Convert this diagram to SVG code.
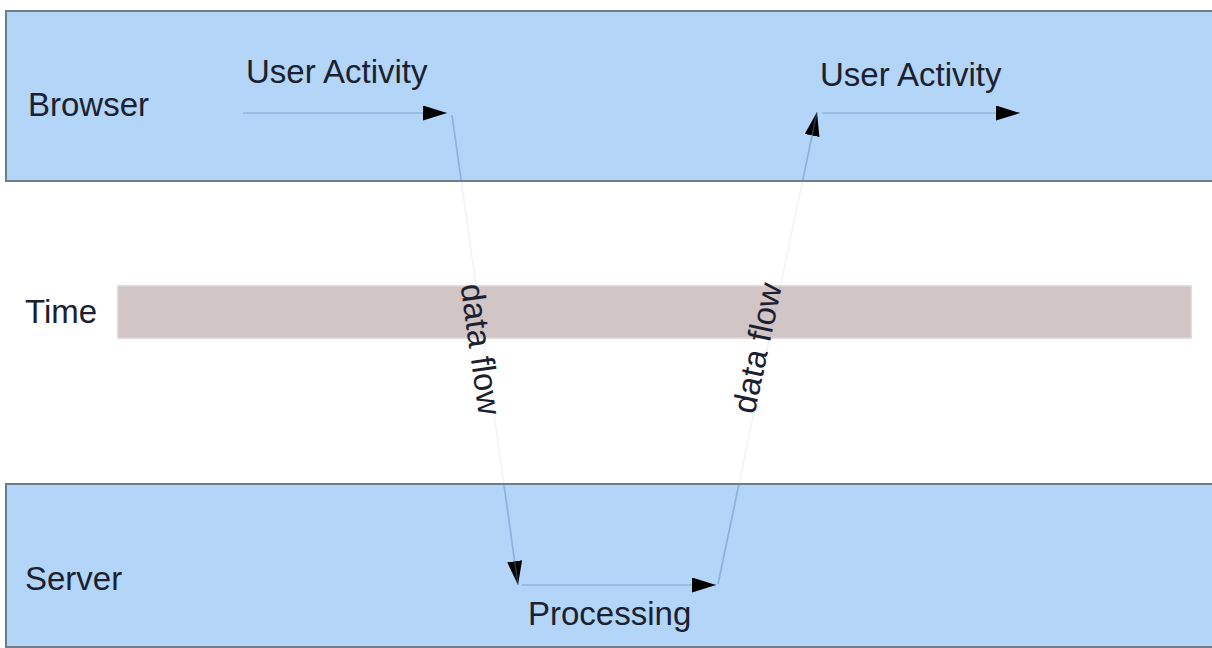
<svg xmlns="http://www.w3.org/2000/svg" width="1212" height="648" viewBox="0 0 1212 648">
  <style>
    .lane { fill: #b3d5f7; stroke: #6f7c8a; stroke-width: 2; }
    .label { font-family: "Liberation Sans", Arial, sans-serif; font-size: 33px; fill: #1b2130; }
    .flow { fill: none; stroke: rgb(95,135,185); stroke-opacity: 0.4; stroke-width: 1.6; }
    .flow.faint { stroke-opacity: 0.1; }
    .timebar { fill: #d1c5c5; stroke: #ddd2d2; stroke-width: 1.5; }
  </style>
  <defs>
    <marker id="head" markerUnits="userSpaceOnUse" markerWidth="26" markerHeight="16" refX="24" refY="7.5" orient="auto">
      <path d="M0,0 L24,7.5 L0,15 z" fill="#000"/>
    </marker>
    <!-- the two lane bands; connectors read stronger inside them -->
    <clipPath id="lanes">
      <rect x="0" y="11" width="1212" height="170"/>
      <rect x="0" y="484" width="1212" height="164"/>
    </clipPath>
  </defs>

  <rect width="1212" height="648" fill="#ffffff"/>

  <!-- browser lane -->
  <g id="browser">
    <rect class="lane" x="6" y="11" width="1220" height="170"/>
    <text class="label" x="28" y="116">Browser</text>
    <text class="label" x="246" y="83">User Activity</text>
    <text class="label" x="820" y="86">User Activity</text>
  </g>

  <!-- time axis -->
  <g id="time">
    <text class="label" x="25" y="323">Time</text>
    <rect class="timebar" x="118" y="286" width="1073" height="52"/>
  </g>

  <!-- server lane -->
  <g id="server">
    <rect class="lane" x="6" y="484" width="1220" height="163"/>
    <text class="label" x="25" y="590">Server</text>
    <text class="label" x="528" y="625">Processing</text>
  </g>

  <!-- connectors -->
  <g id="connectors">
    <line class="flow" x1="243" y1="113" x2="447" y2="113" marker-end="url(#head)"/>
    <line class="flow faint" x1="452" y1="115" x2="518" y2="585" marker-end="url(#head)"/>
    <line class="flow" x1="452" y1="115" x2="518" y2="585" clip-path="url(#lanes)"/>
    <line class="flow" x1="522" y1="585" x2="716" y2="585" marker-end="url(#head)"/>
    <line class="flow faint" x1="718" y1="584" x2="817" y2="112" marker-end="url(#head)"/>
    <line class="flow" x1="718" y1="584" x2="817" y2="112" clip-path="url(#lanes)"/>
    <line class="flow" x1="822" y1="113" x2="1020" y2="113" marker-end="url(#head)"/>
  </g>

  <!-- connector labels -->
  <g id="flow-labels">
    <text class="label" text-anchor="middle" dominant-baseline="central" transform="translate(481,349) rotate(82)">data flow</text>
    <text class="label" text-anchor="middle" dominant-baseline="central" transform="translate(757,348) rotate(-78)">data flow</text>
  </g>
</svg>
